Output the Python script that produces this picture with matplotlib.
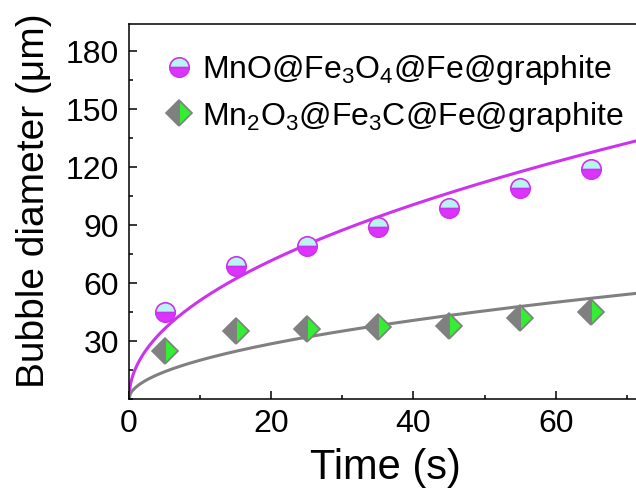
import numpy as np
import matplotlib
matplotlib.use('Agg')
import matplotlib.pyplot as plt
from matplotlib.ticker import MultipleLocator

plt.rcParams['font.family'] = ['Liberation Sans', 'DejaVu Sans']
plt.rcParams['mathtext.fontset'] = 'custom'
plt.rcParams['mathtext.rm'] = 'Liberation Sans'
plt.rcParams['mathtext.it'] = 'Liberation Sans'
plt.rcParams['mathtext.default'] = 'regular'

# measured points
time_s = [5, 15, 25, 35, 45, 55, 65]
mno_d = [45, 69, 79, 89, 99, 109, 119]
mn2o3_d = [25, 35, 36, 37, 38, 42, 45]

# power-law fit coefficients (d = a * t^b)
mno_fit = (16.5, 0.49)
mn2o3_fit = (6.2, 0.51)

MAG = '#cc33ee'
GRAY = '#808080'

fig = plt.figure(figsize=(6.36, 4.95), dpi=100)
ax = fig.add_axes([129 / 636, 1 - 399 / 495, 512 / 636, 375 / 495])

t_fit = np.linspace(0, 72, 400)
ax.plot(t_fit, mno_fit[0] * t_fit ** mno_fit[1], color=MAG, lw=2.2, zorder=2)
ax.plot(t_fit, mn2o3_fit[0] * t_fit ** mn2o3_fit[1], color=GRAY, lw=2.2, zorder=2)

ax.plot(time_s, mno_d, ls='none', marker='o', ms=14, fillstyle='bottom',
        markerfacecolor='#dd33ff', markerfacecoloralt='#b8f4f0',
        markeredgecolor=MAG, mew=1.2, zorder=3,
        label=r'MnO@Fe$_3$O$_4$@Fe@graphite')
ax.plot(time_s, mn2o3_d, ls='none', marker='D', ms=13, fillstyle='right',
        markerfacecolor='#33ee33', markerfacecoloralt=GRAY,
        markeredgecolor=GRAY, mew=1.2, zorder=3,
        label=r'Mn$_2$O$_3$@Fe$_3$C@Fe@graphite')

ax.set_xlim(0, 72)
ax.set_ylim(0, 194)
ax.xaxis.set_major_locator(MultipleLocator(20))
ax.xaxis.set_minor_locator(MultipleLocator(10))
ax.yaxis.set_major_locator(MultipleLocator(30))
ax.yaxis.set_minor_locator(MultipleLocator(15))
ax.set_yticks([30, 60, 90, 120, 150, 180])
ax.tick_params(which='both', direction='in', labelsize=23, width=1.1)
ax.tick_params(which='major', length=6, pad=7)
ax.tick_params(which='minor', length=3)
for s in ax.spines.values():
    s.set_linewidth(1.1)

ax.set_xlabel('Time (s)', fontsize=30, labelpad=7)
ax.set_ylabel('Bubble diameter (\u03bcm)', fontsize=28)
ax.yaxis.set_label_coords(-0.15, 0.53)

ax.legend(loc='upper left', frameon=False, fontsize=23, handletextpad=0.1,
          borderaxespad=0.3, labelspacing=0.4, handlelength=1.3,
          borderpad=0.6)

fig.savefig('out.png', dpi=100)
